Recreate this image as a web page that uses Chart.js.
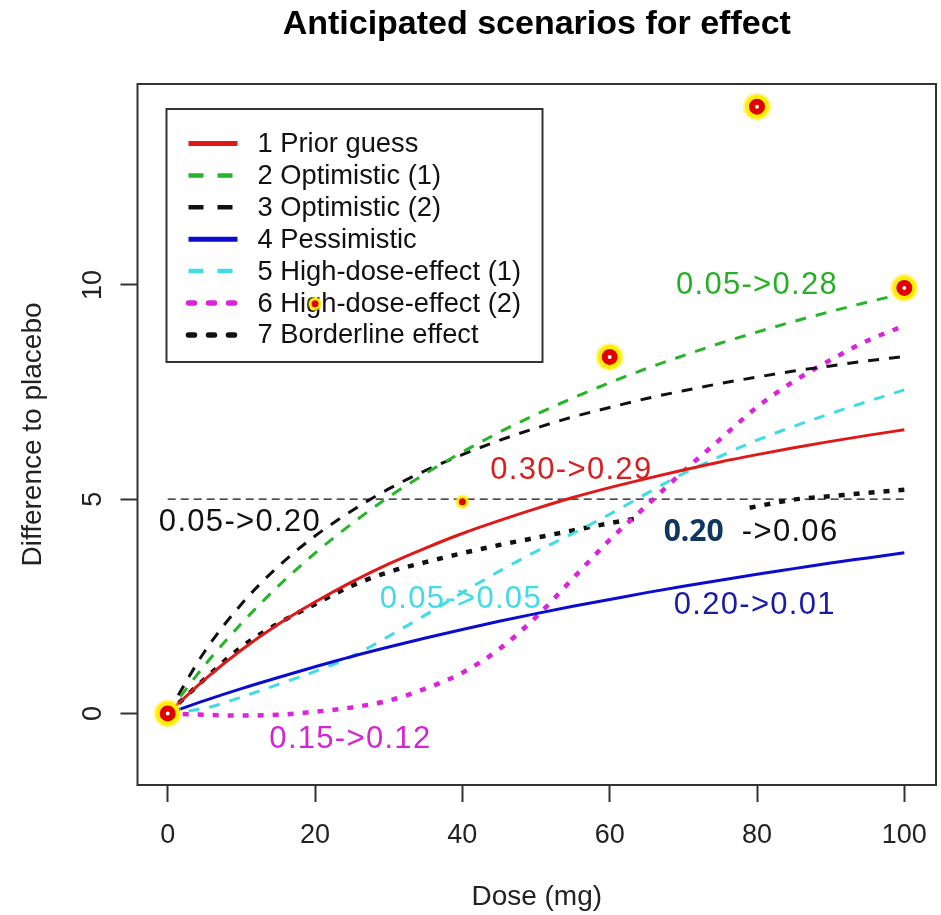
<!DOCTYPE html>
<html>
<head>
<meta charset="utf-8">
<script src="https://cdn.jsdelivr.net/npm/chart.js@4.4.1/dist/chart.umd.min.js"></script>
<style>
  html, body { margin: 0; padding: 0; background: #fff; }
</style>
</head>
<body>
<canvas id="chart" width="941" height="915"></canvas>
<script>
// dose grid shared by most scenarios
const doses = [0, 5, 10, 15, 20, 25, 30, 35, 40, 45, 50, 55, 60, 65, 70, 75, 80, 85, 90, 95, 100];

const priorGuess  = [0, 0.79, 1.48, 2.08, 2.6, 3.07, 3.49, 3.86, 4.2, 4.5, 4.78, 5.04, 5.27, 5.48, 5.68, 5.87, 6.04, 6.2, 6.35, 6.49, 6.62];
const optimistic1 = [0, 1.12, 2.1, 2.97, 3.74, 4.43, 5.05, 5.6, 6.1, 6.56, 6.98, 7.36, 7.72, 8.05, 8.35, 8.64, 8.9, 9.15, 9.38, 9.6, 9.8];
const optimistic2 = [0, 1.44, 2.55, 3.43, 4.14, 4.73, 5.24, 5.67, 6.04, 6.37, 6.66, 6.92, 7.14, 7.35, 7.53, 7.7, 7.85, 7.99, 8.11, 8.23, 8.33];
const pessimistic = [0, 0.3, 0.58, 0.84, 1.09, 1.33, 1.55, 1.76, 1.96, 2.15, 2.33, 2.5, 2.66, 2.82, 2.97, 3.11, 3.25, 3.38, 3.51, 3.63, 3.75];
const highDose1   = [0, 0.12, 0.38, 0.68, 0.98, 1.33, 1.8, 2.3, 2.82, 3.32, 3.78, 4.2, 4.65, 5.13, 5.6, 6.0, 6.38, 6.7, 7.0, 7.28, 7.55];
const highDose2   = [0, -0.03, -0.05, -0.03, 0.04, 0.14, 0.3, 0.58, 0.95, 1.5, 2.25, 3.15, 4.05, 4.85, 5.65, 6.4, 7.15, 7.75, 8.25, 8.7, 9.05];

// borderline curve is interrupted in the original picture
const borderDoses = [0, 5, 10, 15, 20, 25, 30, 35, 40, 45, 50, 55, 60, 64, 70, 79, 85, 90, 95, 100];
const borderline  = [0, 0.8, 1.55, 2.1, 2.55, 2.98, 3.3, 3.53, 3.74, 3.93, 4.1, 4.27, 4.44, 4.56, null, 4.8, 4.99, 5.07, 5.15, 5.22];

const refDoses  = [0, 100];
const refValues = [5, 5];

// highlighted observations
const obsDoses  = [0, 20, 40, 60, 80, 100];
const obsValues = [0, 9.56, 4.94, 8.32, 14.16, 9.93];

const scenarioLabels = ['1 Prior guess', '2 Optimistic (1)', '3 Optimistic (2)', '4 Pessimistic',
  '5 High-dose-effect (1)', '6 High-dose-effect (2)', '7 Borderline effect'];

// power annotations
const noteTexts  = ['0.05->0.28', '0.30->0.29', '0.05->0.20', '0.20', '->0.06', '0.05->0.05', '0.20->0.01', '0.15->0.12'];
const noteDoses  = [80, 54.8, 9.8, 71.4, 84.5, 39.8, 79.7, 24.8];
const noteValues = [10, 5.67, 4.45, 4.22, 4.22, 2.65, 2.51, -0.6];
const noteColors = ['#27b027', '#d81e1e', '#111111', '#0f3760', '#111111', '#3fdbe6', '#1a1aa8', '#d424d4'];

const FONT = '"Liberation Sans", Arial, sans-serif';

function pts(xs, ys) {
    return xs.map((x, i) => ({ x: x, y: ys[i] }));
}

function curve(label, xs, ys, color, dash, width, legendDash, legendWidth) {
    return {
        label: label,
        data: pts(xs, ys),
        borderColor: color,
        backgroundColor: color,
        borderWidth: width,
        borderDash: dash,
        borderCapStyle: 'butt',
        pointRadius: 0,
        cubicInterpolationMode: 'monotone',
        spanGaps: false,
        order: 3,
        inLegend: true,
        legendDash: legendDash,
        legendWidth: legendWidth
    };
}

const DASH = [11, 10];
const DOT = [6, 9];
const LDASH = [15, 14];
const LDOT = [6, 14];

const datasets = [
    // observation markers first so they sit on top
    {
        label: 'obs',
        data: pts(obsDoses, obsValues),
        showLine: false,
        pointRadius: [5, 2.5, 2.5, 5, 5, 5],
        pointBorderWidth: [6, 2, 2, 6, 6, 6],
        pointBorderColor: '#e00000',
        pointBackgroundColor: ['#ffffff', '#e00000', '#e00000', '#ffffff', '#ffffff', '#ffffff'],
        pointHoverRadius: 0,
        order: 0
    },
    {
        label: 'halo',
        data: pts(obsDoses, obsValues),
        showLine: false,
        pointRadius: [12, 6, 6, 12, 12, 12],
        pointBorderWidth: [4, 2.5, 2.5, 4, 4, 4],
        pointBorderColor: 'rgba(255, 238, 0, 0.45)',
        pointBackgroundColor: '#ffee00',
        pointHoverRadius: 0,
        order: 1
    },
    curve(scenarioLabels[0], doses, priorGuess, '#e01818', [], 3, [], 5),
    curve(scenarioLabels[1], doses, optimistic1, '#26b526', DASH, 3, LDASH, 4.5),
    curve(scenarioLabels[2], doses, optimistic2, '#111111', DASH, 3, LDASH, 4.5),
    curve(scenarioLabels[3], doses, pessimistic, '#0c0cd0', [], 3, [], 5),
    curve(scenarioLabels[4], doses, highDose1, '#40dce6', DASH, 3, LDASH, 4.5),
    curve(scenarioLabels[5], doses, highDose2, '#dc22dc', DOT, 4.5, LDOT, 5.5),
    curve(scenarioLabels[6], borderDoses, borderline, '#111111', DOT, 4.5, LDOT, 5.5),
    {
        label: 'reference',
        data: pts(refDoses, refValues),
        borderColor: '#111111',
        borderWidth: 1.3,
        borderDash: [8, 5],
        pointRadius: 0,
        order: 4
    }
];

const plotDecor = {
    id: 'plotDecor',
    beforeDatasetsDraw(chart) {
        const { ctx, chartArea: a } = chart;
        const left = a.left + 29, top = a.top + 25, w = 376, h = 253;
        ctx.save();
        ctx.fillStyle = '#ffffff';
        ctx.fillRect(left, top, w, h);
        ctx.strokeStyle = '#333333';
        ctx.lineWidth = 2;
        ctx.strokeRect(left, top, w, h);
        ctx.font = '27.3px ' + FONT;
        ctx.textBaseline = 'middle';
        ctx.textAlign = 'left';
        const items = chart.data.datasets.filter(d => d.inLegend);
        items.forEach((d, i) => {
            const y = top + 34.5 + i * 31.9;
            ctx.beginPath();
            ctx.strokeStyle = d.borderColor;
            ctx.lineWidth = d.legendWidth;
            ctx.lineCap = d.legendDash.length && d.legendDash[0] < 8 ? 'round' : 'butt';
            ctx.setLineDash(d.legendDash);
            ctx.moveTo(left + 22, y);
            ctx.lineTo(left + 71, y);
            ctx.stroke();
            ctx.setLineDash([]);
            ctx.fillStyle = '#111111';
            ctx.fillText(d.label, left + 91, y + 1);
        });
        ctx.restore();
    },
    afterDatasetsDraw(chart) {
        const { ctx } = chart;
        const xs = chart.scales.x, ys = chart.scales.y;
        ctx.save();
        ctx.textAlign = 'center';
        ctx.textBaseline = 'middle';
        noteTexts.forEach((t, i) => {
            if (t === '0.20') {
                ctx.font = 'bold 30px "Noto Sans", sans-serif';
                ctx.letterSpacing = '0px';
            } else {
                ctx.font = '31px ' + FONT;
                ctx.letterSpacing = '1.3px';
            }
            ctx.fillStyle = noteColors[i];
            ctx.fillText(t, xs.getPixelForValue(noteDoses[i]), ys.getPixelForValue(noteValues[i]));
        });
        ctx.restore();
    },
    afterDraw(chart) {
        const { ctx, chartArea: a } = chart;
        ctx.save();
        ctx.strokeStyle = '#333333';
        ctx.lineWidth = 2;
        ctx.strokeRect(a.left, a.top, a.right - a.left, a.bottom - a.top);
        ctx.restore();
    }
};

const tickFont = { family: FONT, size: 27 };
const axisTitleFont = { family: FONT, size: 28 };

new Chart(document.getElementById('chart'), {
    type: 'line',
    data: { datasets: datasets },
    plugins: [plotDecor],
    options: {
        responsive: false,
        animation: false,
        events: [],
        layout: { autoPadding: false, padding: { left: 0, right: 5, top: 0, bottom: 0 } },
        plugins: {
            legend: { display: false },
            tooltip: { enabled: false },
            title: {
                display: true,
                fullSize: false,
                text: 'Anticipated scenarios for effect',
                color: '#000000',
                font: { family: FONT, size: 34, weight: 'bold', lineHeight: 1.2 },
                padding: { top: 4.5, bottom: 38.7 }
            }
        },
        scales: {
            x: {
                type: 'linear',
                min: -4.1,
                max: 104.3,
                ticks: {
                    stepSize: 20,
                    includeBounds: false,
                    maxRotation: 0,
                    padding: 17,
                    color: '#222222',
                    font: tickFont
                },
                grid: { drawOnChartArea: false, drawTicks: true, tickLength: 17, tickColor: '#333333', tickWidth: 2 },
                border: { display: false },
                title: {
                    display: true,
                    text: 'Dose (mg)',
                    color: '#222222',
                    font: axisTitleFont,
                    padding: { top: 0, bottom: 0.5 }
                },
                afterFit(scale) {
                    scale.height = 130;
                    scale.paddingLeft = 0;
                    scale.paddingRight = 0;
                }
            },
            y: {
                type: 'linear',
                min: -1.67,
                max: 14.69,
                ticks: {
                    stepSize: 5,
                    includeBounds: false,
                    minRotation: 90,
                    maxRotation: 90,
                    crossAlign: 'center',
                    padding: 11.5,
                    color: '#222222',
                    font: tickFont
                },
                grid: { drawOnChartArea: false, drawTicks: true, tickLength: 17, tickColor: '#333333', tickWidth: 2 },
                border: { display: false },
                title: {
                    display: true,
                    text: 'Difference to placebo',
                    color: '#222222',
                    font: axisTitleFont,
                    padding: { top: 16, bottom: 0 }
                },
                afterFit(scale) {
                    scale.width = 137.5;
                    scale.paddingTop = 0;
                    scale.paddingBottom = 0;
                }
            }
        }
    }
});
</script>
</body>
</html>
